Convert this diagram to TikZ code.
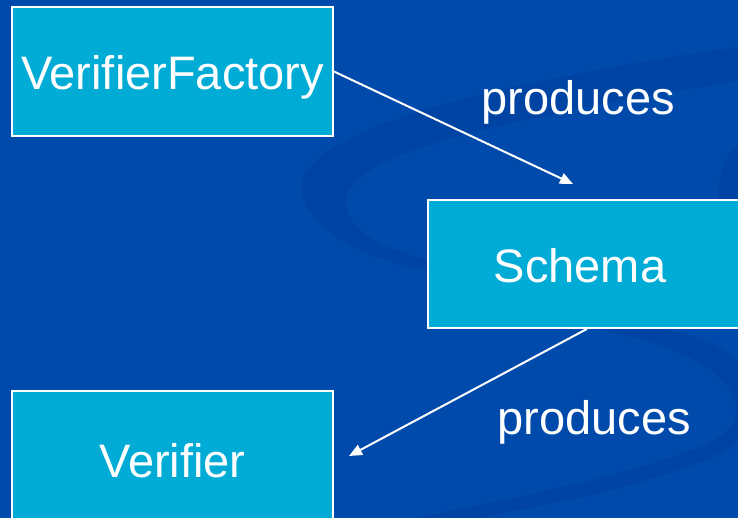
\documentclass[tikz,border=0pt]{standalone}
\usepackage{fontspec}
\setmainfont{Liberation Sans}
\usetikzlibrary{arrows.meta}
\definecolor{slidebg}{RGB}{0,74,172}
\definecolor{swirl}{RGB}{0,58,148}
\definecolor{boxfill}{RGB}{0,171,214}
\tikzset{
  classbox/.style={draw=white, line width=1.8pt, fill=boxfill, text=white,
    font=\fontsize{47}{56}\selectfont, inner sep=0pt, anchor=center,
    text height=37pt, text depth=0pt},
  relabel/.style={text=white, font=\fontsize{47}{56}\selectfont, inner sep=0pt, anchor=base},
  produce/.style={draw=white, line width=2pt, -{Triangle[length=13pt,width=11pt]}},
  band/.style={fill=swirl, opacity=0.35}
}
\begin{document}
\begin{tikzpicture}[x=1pt, y=-1pt]
  \useasboundingbox (0,0) rectangle (738,518);
  \clip (0,0) rectangle (738,518);
  % slide background
  \fill[slidebg] (0,0) rectangle (738,518);
  % decorative swirl bands
  \fill[band] (745,46) .. controls (520,78) and (290,128) .. (302,192)
     .. controls (312,236) and (370,262) .. (440,272)
     -- (440,262) .. controls (385,252) and (345,230) .. (346,200)
     .. controls (348,150) and (540,112) .. (745,80) -- cycle;
  \fill[band] (600,330) .. controls (680,345) and (745,375) .. (735,420)
     .. controls (725,455) and (560,490) .. (380,525)
     -- (440,525) .. controls (580,500) and (720,470) .. (750,430)
     -- (750,370) .. controls (720,340) and (680,330) .. (640,326) -- cycle;
  \fill[band] (745,140) .. controls (725,150) and (715,175) .. (720,205)
     -- (745,215) .. controls (735,190) and (738,165) .. (745,150) -- cycle;
  % classes
  \node[classbox, minimum width=321pt, minimum height=129pt] (factory)
    at (172.5,71.5) {VerifierFactory};
  \node[classbox, minimum width=312pt, minimum height=128pt] (schema)
    at (584,264) {\hspace*{-8pt}Schema};
  \node[classbox, minimum width=321pt, minimum height=136pt] (verifier)
    at (172.5,459) {Verifier};
  % arrow end points
  \coordinate (schemaIn) at (573,184);
  \coordinate (verifierIn) at (349,456);
  % relations
  \draw[produce] (factory.east) -- (schemaIn);
  \draw[produce] ([xshift=3pt]schema.south) -- (verifierIn);
  \node[relabel] (lab1) at (578,115) {produces};
  \node[relabel] (lab2) at (594,434) {produces};
\end{tikzpicture}
\end{document}
